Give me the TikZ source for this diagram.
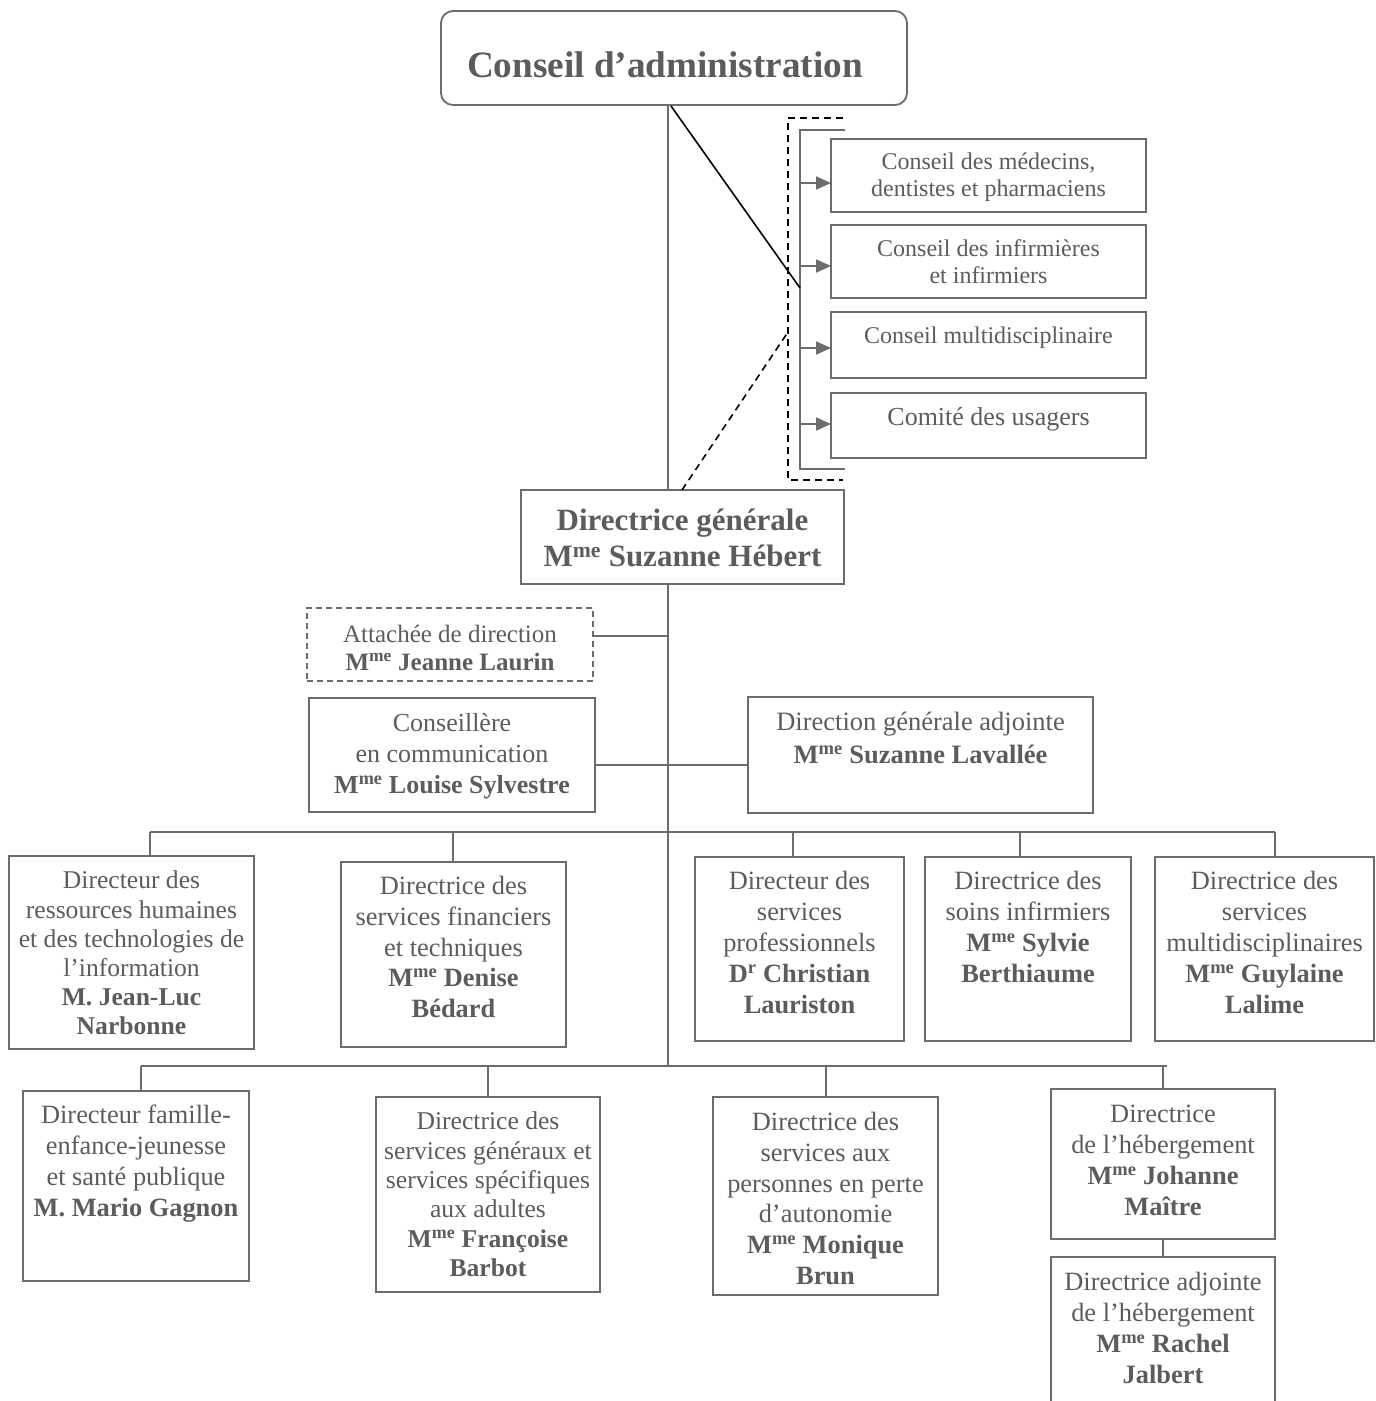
\documentclass[tikz,border=0pt]{standalone}
\usepackage{fontspec}
\setmainfont{Liberation Serif}
\usetikzlibrary{arrows.meta}
\definecolor{tx}{HTML}{5C5C5C}
\definecolor{ln}{HTML}{6C6C6C}
\tikzset{
  boxst/.style={draw=ln,line width=1.8pt,inner sep=0pt,outer sep=0pt},
  txt/.style={anchor=north,align=center,inner sep=0pt,text=tx,font=\fontsize{26.4}{30}\selectfont},
  conn/.style={draw=ln,line width=1.8pt},
  blk/.style={draw=black,line width=1.6pt},
  blkdash/.style={draw=black,line width=1.6pt,dash pattern=on 7pt off 5pt},
  arr/.style={-{Triangle[length=15pt,width=13pt]}}
}
\newcommand\obox[8][]{%
  \node[boxst,minimum width={(#5-#3)*1pt},minimum height={(#6-#4)*1pt}] (#2) at ({(#3+#5)/2},{(#4+#6)/2}) {};
  \node[txt,#1] (#2t) at ({(#3+#5)/2},#7) {#8};}
\begin{document}
\begin{tikzpicture}[x=1pt,y=-1pt]
\useasboundingbox[fill=white] (0,0) rectangle (1376,1401);
% title
\node[draw=ln,line width=1.8pt,rounded corners=12pt,minimum width=466pt,minimum height=94pt,inner sep=0pt] (ca) at (674,58) {};
\node[anchor=base,inner sep=0pt,text=tx,font=\fontsize{37.2}{44}\selectfont\bfseries] (cat) at (665,77) {Conseil d’administration};
% councils
\obox[font=\fontsize{24}{27}\selectfont]{c1}{831}{139}{1146}{212}{153}{Conseil des médecins,\\dentistes et pharmaciens}
\obox[font=\fontsize{24}{27}\selectfont]{c2}{831}{225}{1146}{298}{239}{Conseil des infirmières\\et infirmiers}
\obox[font=\fontsize{24}{27}\selectfont]{c3}{831}{312}{1146}{378}{327}{Conseil multidisciplinaire}
\obox[font=\fontsize{26}{30}\selectfont]{c4}{831}{393}{1146}{458}{407}{Comité des usagers}
% brackets
\coordinate (bt1) at (845,130); \coordinate (bt0) at (800,130);
\coordinate (bb0) at (800,469); \coordinate (bb1) at (845,469);
\draw[conn] (bt1) -- (bt0) -- (bb0) -- (bb1);
\coordinate (ot1) at (843,118); \coordinate (ot0) at (788,118);
\coordinate (ob0) at (788,480); \coordinate (ob1) at (843,480);
\draw[blkdash] (ot1) -- (ot0) -- (ob0) -- (ob1);
\foreach \n/\y in {1/183,2/266,3/348,4/424}{
  \coordinate (a\n) at (800,\y);
  \draw[conn,arr,color=ln] (a\n) -- (a\n -| c\n.west);
}
% director general
\obox[font=\fontsize{31}{36}\selectfont\bfseries]{dg}{521}{490}{844}{584}{509}{Directrice générale\\M\textsuperscript{me} Suzanne Hébert}
\coordinate (trunk) at (668,0);
\draw[conn] (ca.south -| trunk) -- (dg.north -| trunk);
\coordinate (d0) at (671,106); \coordinate (d1) at (800,288);
\draw[blk] (d0) -- (d1);
\coordinate (e0) at (682,490); \coordinate (e1) at (788,332);
\draw[blkdash] (e0) -- (e1);
% attachee
\node[draw=ln,line width=1.6pt,dash pattern=on 6pt off 4pt,minimum width=286pt,minimum height=73pt,inner sep=0pt] (att) at (450,644.5) {};
\node[txt,font=\fontsize{25}{28}\selectfont] (attt) at (450,625) {Attachée de direction\\\textbf{M\textsuperscript{me} Jeanne Laurin}};
\obox[font=\fontsize{26}{31}\selectfont]{cons}{309}{698}{595}{812}{713}{Conseillère\\en communication\\\textbf{M\textsuperscript{me} Louise Sylvestre}}
\obox[font=\fontsize{26.5}{32.5}\selectfont]{lav}{748}{697}{1093}{813}{712}{Direction générale adjointe\\\textbf{M\textsuperscript{me} Suzanne Lavallée}}
\coordinate (ja) at (668,636);
\coordinate (jc) at (668,765);
\coordinate (j2) at (668,1066);
\draw[conn] (dg.south -| trunk) -- (j2);
\draw[conn] (ja -| att.east) -- (ja);
\draw[conn] (jc -| cons.east) -- (jc -| lav.west);
% row 1
\obox[font=\fontsize{25.6}{29.2}\selectfont]{r1}{9}{856}{254}{1049}{871}{Directeur des\\ressources humaines\\et des technologies de\\l’information\\\textbf{M. Jean-Luc}\\\textbf{Narbonne}}
\obox[font=\fontsize{26.4}{30.8}\selectfont]{r2}{341}{862}{566}{1047}{876}{Directrice des\\services financiers\\et techniques\\\textbf{M\textsuperscript{me} Denise}\\\textbf{Bédard}}
\obox[font=\fontsize{26.4}{31}\selectfont]{r3}{695}{857}{904}{1041}{871}{Directeur des\\services\\professionnels\\\textbf{D\textsuperscript{r} Christian}\\\textbf{Lauriston}}
\obox[font=\fontsize{26.4}{31}\selectfont]{r4}{925}{857}{1131}{1041}{871}{Directrice des\\soins infirmiers\\\textbf{M\textsuperscript{me} Sylvie}\\\textbf{Berthiaume}}
\obox[font=\fontsize{26.4}{31}\selectfont]{r5}{1155}{857}{1374}{1041}{871}{Directrice des\\services\\multidisciplinaires\\\textbf{M\textsuperscript{me} Guylaine}\\\textbf{Lalime}}
\coordinate (u1) at (150,832); \coordinate (u2) at (453,832);
\coordinate (u3) at (793,832); \coordinate (u4) at (1020,832);
\coordinate (u5) at (1275,832);
\draw[conn] (u1) -- (u5);
\foreach \n in {1,...,5}{\draw[conn] (u\n) -- (u\n |- r\n.north);}
% row 2
\obox[font=\fontsize{26.4}{31}\selectfont]{r6}{23}{1091}{249}{1281}{1105}{Directeur famille-\\enfance-jeunesse\\et santé publique\\\textbf{M. Mario Gagnon}}
\obox[font=\fontsize{25.6}{29.3}\selectfont]{r7}{376}{1097}{600}{1292}{1112}{Directrice des\\services généraux et\\services spécifiques\\aux adultes\\\textbf{M\textsuperscript{me} Françoise}\\\textbf{Barbot}}
\obox[font=\fontsize{26.4}{30.8}\selectfont]{r8}{713}{1097}{938}{1295}{1112}{Directrice des\\services aux\\personnes en perte\\d’autonomie\\\textbf{M\textsuperscript{me} Monique}\\\textbf{Brun}}
\obox[font=\fontsize{26.4}{31}\selectfont]{r9}{1051}{1089}{1275}{1239}{1105}{Directrice\\de l’hébergement\\\textbf{M\textsuperscript{me} Johanne}\\\textbf{Maître}}
\node[inner sep=0pt,outer sep=0pt,minimum width=224pt,minimum height=144pt] (r10) at (1163,1329) {};
\draw[conn] (r10.south west) -- (r10.north west) -- (r10.north east) -- (r10.south east);
\node[txt,font=\fontsize{26.4}{31}\selectfont] (r10t) at (1163,1272) {Directrice adjointe\\de l’hébergement\\\textbf{M\textsuperscript{me} Rachel}\\\textbf{Jalbert}};
\coordinate (l1) at (141,1066); \coordinate (l2) at (488,1066);
\coordinate (l3) at (826,1066); \coordinate (l4) at (1163,1066);
\coordinate (lend) at (1167,1066);
\draw[conn] (l1) -- (lend);
\foreach \n/\r in {1/6,2/7,3/8,4/9}{\draw[conn] (l\n) -- (l\n |- r\r.north);}
\draw[conn] (r9.south -| l4) -- (r10.north -| l4);
\end{tikzpicture}
\end{document}
